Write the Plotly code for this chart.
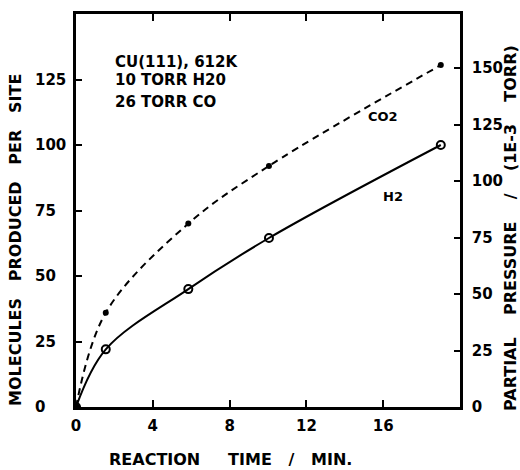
import plotly.graph_objects as go

time_min = [0.0, 1.55, 5.85, 10.05, 19.0]
h2_per_site = [0, 22, 45, 64.5, 100]
co2_per_site = [0, 36, 70, 92, 130.5]

x_ticks = [0, 4, 8, 12, 16]
y_ticks = [0, 25, 50, 75, 100, 125]
y2_ticks = [0, 25, 50, 75, 100, 125, 150]

FONT = "DejaVu Sans"
NB = "\u00a0"

# plot-area geometry in pixels
L, R, T, B = 76, 460, 14, 407
PW, PH = R - L, B - T


def px(x):
    return (x - L) / PW


def py(y):
    return 1 - (y - T) / PH


fig = go.Figure()
fig.add_trace(go.Scatter(
    x=time_min, y=co2_per_site, mode="lines+markers",
    line=dict(color="black", width=2, dash="7px,5px", shape="spline", smoothing=1.0),
    marker=dict(symbol="circle", size=6, color="black"),
    showlegend=False,
))
fig.add_trace(go.Scatter(
    x=time_min, y=h2_per_site, mode="lines+markers",
    line=dict(color="black", width=2, shape="spline", smoothing=1.0),
    marker=dict(symbol="circle-open", size=8, color="black", line=dict(width=2)),
    showlegend=False,
))
fig.add_trace(go.Scatter(
    x=[time_min[0]], y=[0], mode="markers",
    marker=dict(symbol="diamond", size=8, color="black"),
    showlegend=False,
))
# invisible trace to anchor right axis
fig.add_trace(go.Scatter(x=[0], y=[0], yaxis="y2", mode="markers",
                         marker=dict(opacity=0), showlegend=False, hoverinfo="skip"))

tickfont = dict(family=FONT, size=15, color="black", weight="bold")

fig.update_layout(
    width=520, height=470,
    margin=dict(l=L, r=520 - R, t=T, b=470 - B),
    paper_bgcolor="white", plot_bgcolor="white",
    xaxis=dict(range=[0, 20], tickvals=x_ticks, ticks="inside", ticklen=7, tickwidth=1.5,
               tickcolor="black", showline=True, linecolor="black", linewidth=2.5,
               mirror="ticks", showgrid=False, zeroline=False, tickfont=tickfont,
               ticklabelstandoff=3),
    yaxis=dict(range=[0, 150], tickvals=y_ticks, ticks="inside", ticklen=6, tickwidth=1.5,
               tickcolor="black", showline=True, linecolor="black", linewidth=2.5,
               showgrid=False, zeroline=False, showticklabels=False),
    yaxis2=dict(range=[0, 174], tickvals=y2_ticks, ticks="inside", ticklen=6, tickwidth=1.5,
                tickcolor="black", showline=True, linecolor="black", linewidth=2.5,
                overlaying="y", side="right", showgrid=False, zeroline=False,
                tickfont=tickfont, ticklabelstandoff=6),
)

# left-axis tick labels (left-aligned, as in the original)
for v in y_ticks:
    fig.add_annotation(text=str(v), xref="paper", yref="y", x=px(33), y=v,
                       xanchor="left", yanchor="middle", showarrow=False, font=tickfont)

ann_font = dict(family=FONT, size=15, color="black", weight="bold")
lbl_font = dict(family=FONT, size=13, color="black", weight="bold")
title_font = dict(family=FONT, size=16, color="black", weight="bold")

info_lines = ["CU(111), 612K", "10 TORR H20", "26 TORR CO"]
info_y = [62, 80, 102]
for txt, yy in zip(info_lines, info_y):
    fig.add_annotation(text=txt, xref="paper", yref="paper", x=px(113), y=py(yy),
                       xanchor="left", yanchor="middle", showarrow=False, font=ann_font)

fig.add_annotation(text="CO2", xref="paper", yref="paper", x=px(383), y=py(117),
                   xanchor="center", yanchor="middle", showarrow=False, font=lbl_font)
fig.add_annotation(text="H2", xref="paper", yref="paper", x=px(393), y=py(196),
                   xanchor="center", yanchor="middle", showarrow=False, font=lbl_font)

fig.add_annotation(text=f"REACTION{NB*5}TIME{NB*3}/{NB*3}MIN.", xref="paper", yref="paper",
                   x=px(230), y=py(459), xanchor="center", yanchor="middle",
                   showarrow=False, font=title_font)
fig.add_annotation(text=f"MOLECULES{NB*3}PRODUCED{NB*3}PER{NB*3}SITE", xref="paper", yref="paper",
                   x=px(15), y=py(240), xanchor="center", yanchor="middle",
                   textangle=-90, showarrow=False, font=title_font)
fig.add_annotation(text=f"PARTIAL{NB*4}PRESSURE{NB*4}/{NB*4}(1E-3{NB*4}TORR)", xref="paper", yref="paper",
                   x=px(510), y=py(228), xanchor="center", yanchor="middle",
                   textangle=-90, showarrow=False, font=title_font)

fig.write_html("out.html")
